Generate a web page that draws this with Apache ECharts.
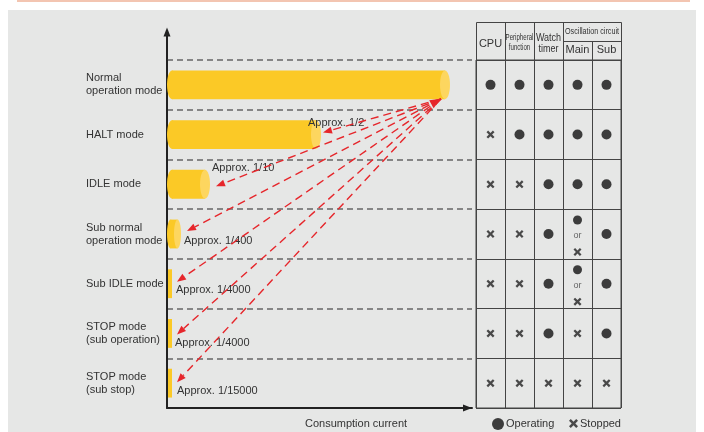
<!DOCTYPE html>
<html><head><meta charset="utf-8">
<script src="https://cdn.jsdelivr.net/npm/echarts@6.0.0/dist/echarts.min.js"></script>
<style>html,body{margin:0;padding:0;background:#fff}#c{width:704px;height:432px}</style>
</head><body><div id="c"></div>
<script>
// ---------------- data ----------------
const modes = ['Normal\noperation mode', 'HALT mode', 'IDLE mode', 'Sub normal\noperation mode', 'Sub IDLE mode', 'STOP mode\n(sub operation)', 'STOP mode\n(sub stop)'];
const barLength = [283, 154, 43, 14, 5, 5, 5];   // drawn length (not to scale in the original)
const ratioLabels = ['', 'Approx. 1/2', 'Approx. 1/10', 'Approx. 1/400', 'Approx. 1/4000', 'Approx. 1/4000', 'Approx. 1/15000'];
const columns = ['CPU', 'Peripheral\nfunction', 'Watch\ntimer', 'Main', 'Sub'];
const groupHeader = 'Oscillation circuit';
// O = operating, X = stopped, OX = operating or stopped
const status = [
  ['O', 'O', 'O', 'O', 'O'],
  ['X', 'O', 'O', 'O', 'O'],
  ['X', 'X', 'O', 'O', 'O'],
  ['X', 'X', 'O', 'OX', 'O'],
  ['X', 'X', 'O', 'OX', 'O'],
  ['X', 'X', 'O', 'X', 'O'],
  ['X', 'X', 'X', 'X', 'X']
];
const legendNames = ['Operating', 'Stopped'];
const orText = 'or';
const xAxisName = 'Consumption current';

// ---------------- layout / style ----------------
const FONT = '"Liberation Sans", Arial, Helvetica, sans-serif';
const TXT = '#333';
const BAR = '#fbc926', CAP = '#fdd65f', RED = '#e6262b', LINE = '#222';
const X_PATH = 'path://M2,0L5,3L8,0L10,2L7,5L10,8L8,10L5,7L2,10L0,8L3,5L0,2Z';
const n = modes.length;
const modesRev = modes.slice().reverse();
// offsets relative to bar end / row centre (pixels)
const labelOffsets = [null, [-13, -12], [2, -16], [3, 7], [4, 6], [3, 10], [5, 8]];
const arrowOffsets = [null, [2, -2], [6, 2], [6, -3], [5, -2], [5, 1], [5, -1]];
const originOffset = [-9, 14];

const chart = echarts.init(document.getElementById('c'), null, {renderer: 'canvas'});

const barData = barLength.map((v, i) => [v, n - 1 - i, i]);
const arrowData = barLength.slice(1).map((v, k) => [v, n - 2 - k, k + 1]);

function renderBar(params, api) {
  const len = api.value(0), ci = api.value(1), i = api.value(2);
  const p0 = api.coord([0, ci]), p1 = api.coord([len, ci]);
  const rowH = api.size([0, 1])[1];
  const h = rowH * 0.58;
  const w = p1[0] - p0[0];
  const top = p0[1] - h / 2;
  const children = [];
  if (w > 10) {
    const rx = Math.min(5, w / 4);
    children.push({type: 'ellipse', shape: {cx: p0[0] + rx, cy: p0[1], rx: rx, ry: h / 2}, style: {fill: BAR}});
    children.push({type: 'rect', shape: {x: p0[0] + rx, y: top, width: w - 2 * rx, height: h}, style: {fill: BAR}});
    children.push({type: 'ellipse', shape: {cx: p1[0] - rx, cy: p0[1], rx: rx, ry: h / 2}, style: {fill: CAP}});
  } else {
    children.push({type: 'rect', shape: {x: p0[0] + 1, y: top, width: w - 1, height: h}, style: {fill: BAR}});
  }
  if (ratioLabels[i]) {
    const off = labelOffsets[i];
    children.push({type: 'text', x: p1[0] + off[0], y: p0[1] + off[1],
      style: {text: ratioLabels[i], fill: TXT, fontSize: 11, fontFamily: FONT, verticalAlign: 'middle', align: 'left'}});
  }
  return {type: 'group', children: children};
}

function head(tip, from, L, W) {
  const dx = tip[0] - from[0], dy = tip[1] - from[1];
  const d = Math.sqrt(dx * dx + dy * dy);
  const ux = dx / d, uy = dy / d;
  const bx = tip[0] - ux * L, by = tip[1] - uy * L;
  return {points: [tip, [bx - uy * W, by + ux * W], [bx + uy * W, by - ux * W]], base: [bx, by]};
}

function renderArrow(params, api) {
  const len = api.value(0), ci = api.value(1), i = api.value(2);
  const c0 = api.coord([barLength[0], n - 1]);
  const origin = [c0[0] + originOffset[0], c0[1] + originOffset[1]];
  const pt = api.coord([len, ci]);
  const tip = [pt[0] + arrowOffsets[i][0], pt[1] + arrowOffsets[i][1]];
  const hd = head(tip, origin, 9, 3.5);
  const children = [
    {type: 'line', shape: {x1: origin[0], y1: origin[1], x2: hd.base[0], y2: hd.base[1]},
      style: {stroke: RED, lineWidth: 1.4, lineDash: [8, 5], fill: null}},
    {type: 'polygon', shape: {points: hd.points}, style: {fill: RED}}
  ];
  if (i === 1) {
    const oh = head(origin, [origin[0] - 18, origin[1] + 10], 11, 4.5);
    children.push({type: 'polygon', shape: {points: oh.points}, style: {fill: RED}});
  }
  return {type: 'group', children: children};
}

// table symbols
const opData = [], stData = [], orData = [];
status.forEach((row, i) => row.forEach((s, j) => {
  const ci = n - 1 - i;
  if (s === 'O') opData.push([j, ci]);
  else if (s === 'X') stData.push([j, ci]);
  else {
    opData.push({value: [j, ci], symbolSize: 9, symbolOffset: [0, -14]});
    stData.push({value: [j, ci], symbolOffset: [0, 18]});
    orData.push([j, ci]);
  }
}));

// header graphics
const TL = 476, TR = 621, HT = 22, HM = 41, HB = 60;
const colW = (TR - TL) / columns.length;
const headStyles = [
  {size: 11, y: 44, lh: 12, sx: 1},
  {size: 9, y: 43, lh: 10, sx: 0.68},
  {size: 10, y: 43.5, lh: 11, sx: 0.9},
  {size: 11, y: 50, lh: 12, sx: 1},
  {size: 11, y: 50, lh: 12, sx: 1}
];
const graphics = [
  {type: 'rect', z: -100, silent: true, shape: {x: 8, y: 10, width: 688, height: 430}, style: {fill: '#e6e7e6'}},
  {type: 'line', silent: true, shape: {x1: 17, y1: 1, x2: 690, y2: 1}, style: {stroke: '#f3c5b1', lineWidth: 2}},
  {type: 'line', silent: true, shape: {x1: 167, y1: 61, x2: 167, y2: 34}, style: {stroke: LINE, lineWidth: 2}},
  {type: 'rect', silent: true, shape: {x: TL + 0.5, y: HT + 0.5, width: TR - TL, height: HB - HT}, style: {fill: null, stroke: '#444', lineWidth: 1}},
  {type: 'line', silent: true, shape: {x1: TL + 3 * colW, y1: HM + 0.5, x2: TR, y2: HM + 0.5}, style: {stroke: '#444', lineWidth: 1}},
  {type: 'line', silent: true, shape: {x1: TL + 4 * colW + 0.5, y1: HM, x2: TL + 4 * colW + 0.5, y2: HB}, style: {stroke: '#444', lineWidth: 1}},
  {type: 'text', silent: true, x: TL + 4 * colW, y: 31.5, scaleX: 0.8,
    style: {text: groupHeader, fill: TXT, fontSize: 9, fontFamily: FONT, align: 'center', verticalAlign: 'middle'}}
];
for (let j = 1; j <= 3; j++) {
  graphics.push({type: 'line', silent: true, shape: {x1: TL + j * colW + 0.5, y1: HT, x2: TL + j * colW + 0.5, y2: HB}, style: {stroke: '#444', lineWidth: 1}});
}
columns.forEach((c, j) => {
  const s = headStyles[j];
  graphics.push({type: 'text', silent: true, x: TL + (j + 0.5) * colW, y: s.y, scaleX: s.sx,
    style: {text: c, fill: TXT, fontSize: s.size, fontFamily: FONT, lineHeight: s.lh, align: 'center', verticalAlign: 'middle'}});
});

const option = {
  animation: false,
  backgroundColor: '#fff',
  textStyle: {fontFamily: FONT},
  graphic: {elements: graphics},
  legend: [
    {data: [legendNames[0]], left: 492, top: 418, padding: 0, itemWidth: 12, itemHeight: 12, selectedMode: false,
      textStyle: {color: TXT, fontSize: 11, fontFamily: FONT, padding: [0, 0, 0, -3]}},
    {data: [legendNames[1]], left: 569, top: 418, padding: 0, itemWidth: 9, itemHeight: 9, selectedMode: false,
      textStyle: {color: TXT, fontSize: 11, fontFamily: FONT, padding: [0, 0, 0, -3]}}
  ],
  grid: [
    {left: 167, right: 704 - 472, top: 60, bottom: 24, outerBoundsMode: 'none', containLabel: false},
    {left: TL, right: 704 - TR, top: 60, bottom: 24, show: true, borderColor: '#444', borderWidth: 1, backgroundColor: 'transparent', outerBoundsMode: 'none', containLabel: false}
  ],
  xAxis: [
    {type: 'value', gridIndex: 0, min: 0, max: 305,
      axisLine: {show: true, onZero: false, lineStyle: {color: LINE, width: 2}, symbol: ['none', 'triangle'], symbolSize: [7, 9], symbolOffset: [0, -4.5]},
      axisTick: {show: false}, axisLabel: {show: false}, splitLine: {show: false},
      name: xAxisName, nameLocation: 'middle', nameGap: 10,
      nameTextStyle: {color: TXT, fontSize: 11, fontFamily: FONT, padding: [0, 0, 0, 73]}},
    {type: 'category', gridIndex: 1, data: columns,
      axisLine: {show: false}, axisTick: {show: false}, axisLabel: {show: false},
      splitLine: {show: true, interval: 0, lineStyle: {color: '#444', width: 1}}}
  ],
  yAxis: [
    {type: 'category', gridIndex: 0, data: modesRev,
      axisLine: {show: true, onZero: false, lineStyle: {color: LINE, width: 2}, symbol: ['none', 'triangle'], symbolSize: [7, 9], symbolOffset: [0, 28]},
      axisTick: {show: false},
      axisLabel: {show: true, interval: 0, align: 'left', margin: 81, color: TXT, fontSize: 11, lineHeight: 13, fontFamily: FONT},
      splitLine: {show: true, interval: 0, lineStyle: {color: '#666', width: 1.5, type: [6, 4]}}},
    {type: 'category', gridIndex: 1, data: modesRev,
      axisLine: {show: false}, axisTick: {show: false}, axisLabel: {show: false},
      splitLine: {show: true, interval: 0, lineStyle: {color: '#444', width: 1}}}
  ],
  series: [
    {type: 'custom', name: 'bars', xAxisIndex: 0, yAxisIndex: 0, data: barData, renderItem: renderBar, encode: {x: 0, y: 1}, silent: true, z: 3},
    {type: 'custom', name: 'arrows', xAxisIndex: 0, yAxisIndex: 0, data: arrowData, renderItem: renderArrow, encode: {x: 0, y: 1}, silent: true, z: 4},
    {type: 'scatter', name: legendNames[0], xAxisIndex: 1, yAxisIndex: 1, data: opData, symbol: 'circle', symbolSize: 10,
      itemStyle: {color: '#111'}, silent: true, z: 5},
    {type: 'scatter', name: legendNames[1], xAxisIndex: 1, yAxisIndex: 1, data: stData, symbol: X_PATH, symbolSize: 8,
      itemStyle: {color: '#222'}, silent: true, z: 5},
    {type: 'scatter', name: 'or', xAxisIndex: 1, yAxisIndex: 1, data: orData, symbol: 'rect', symbolSize: 1,
      itemStyle: {color: 'rgba(0,0,0,0)'}, silent: true, z: 5,
      label: {show: true, position: 'inside', formatter: orText, offset: [0, 2], color: '#444', fontSize: 9, fontFamily: FONT}}
  ]
};
chart.setOption(option);
</script>
</body></html>
